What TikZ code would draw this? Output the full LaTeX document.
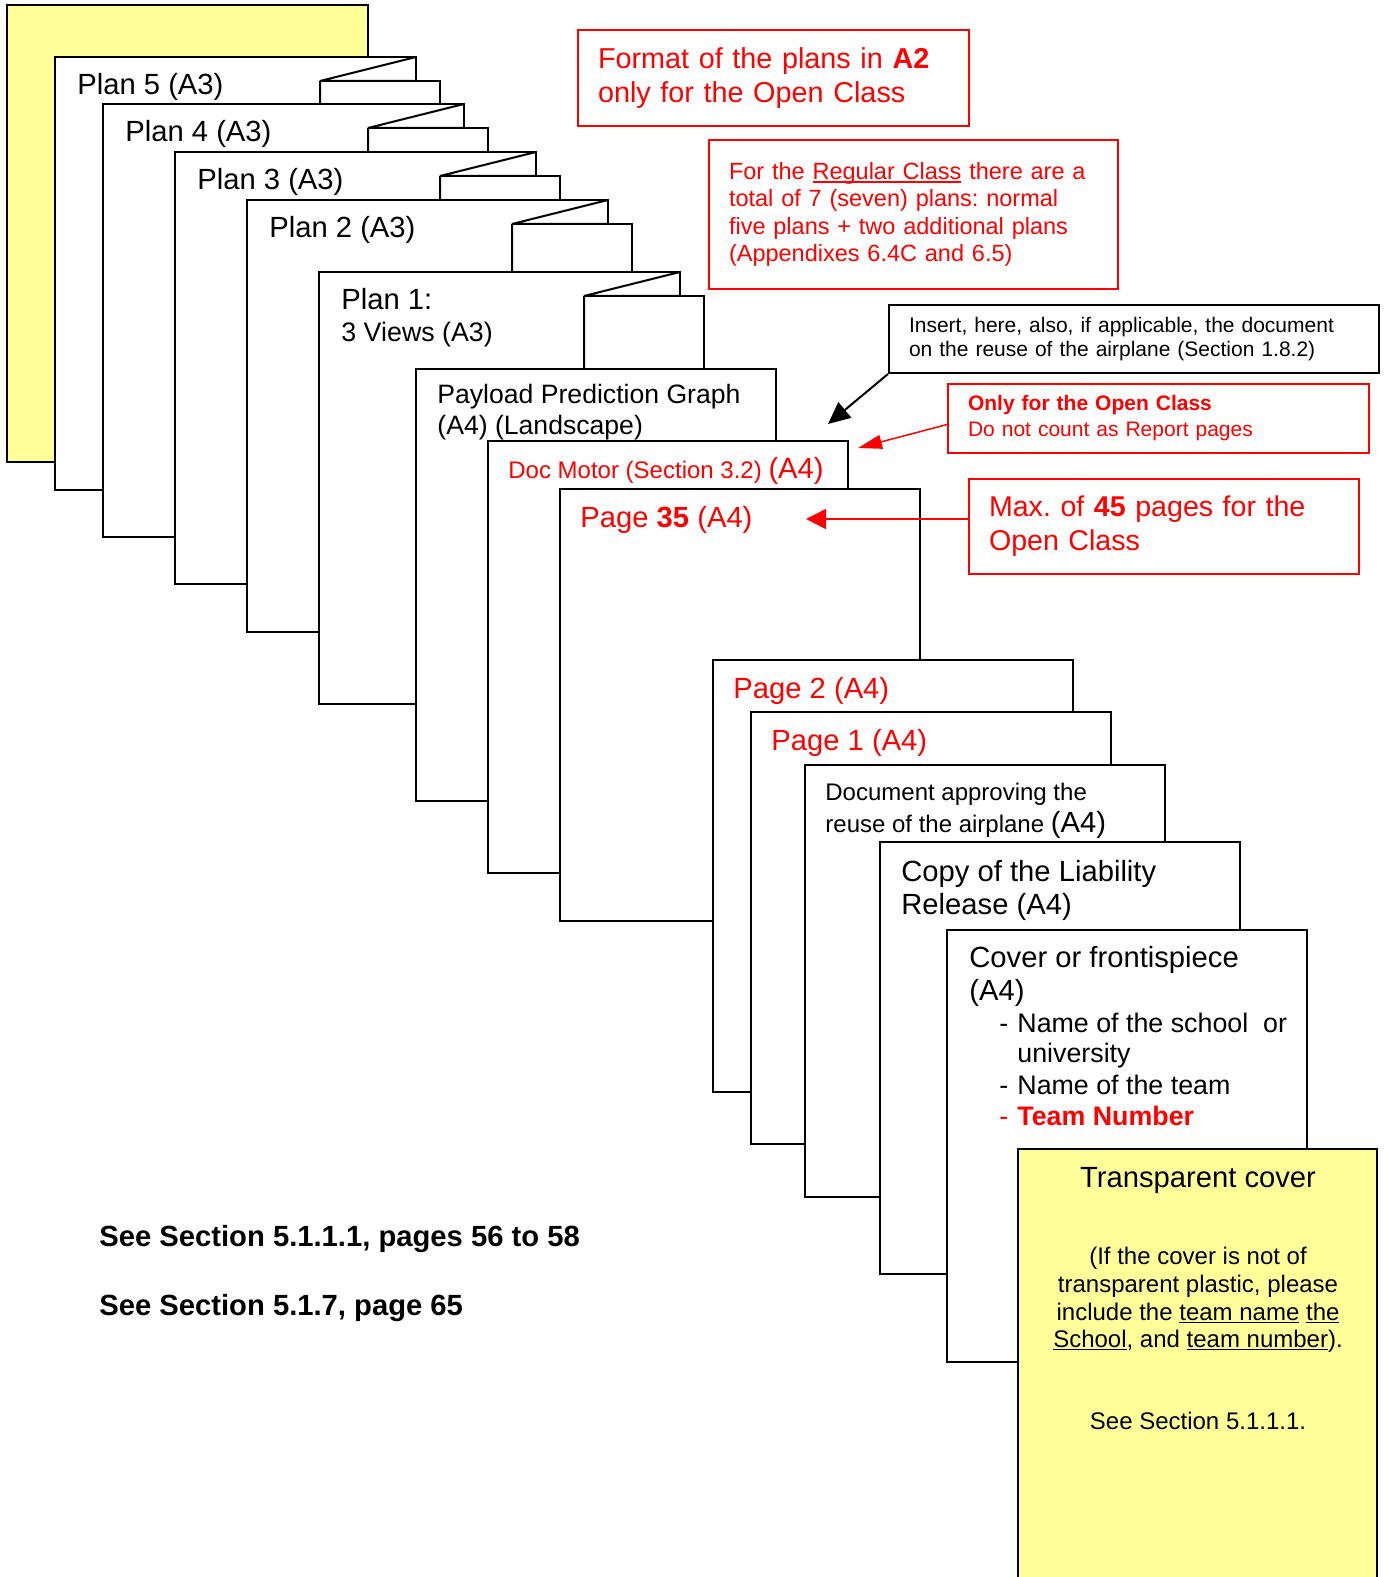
\documentclass[tikz,border=0pt]{standalone}
\usepackage{fontspec}
\setmainfont{Liberation Sans}
\usetikzlibrary{arrows.meta}
\definecolor{paleyellow}{HTML}{FFFF99}
\newcommand\bigfont{\fontsize{14.6}{17}\selectfont}
\newcommand\midfont{\fontsize{12}{13.75}\selectfont}
\newcommand\itemfont{\fontsize{13.4}{16}\selectfont}
\newcommand\uln[1]{\leavevmode\setbox0\hbox{#1}\rlap{\rule[-1.6pt]{\wd0}{0.6pt}}\box0\relax}

\begin{document}
\frenchspacing
\begin{tikzpicture}[x=0.5pt, y=-0.5pt,
		sheet/.style={draw, fill=white, line width=1pt},
		pagetext/.style={anchor=base west, inner sep=0pt},
		covertext/.style={anchor=base, inner sep=0pt, font=\midfont},
		notebox/.style={draw=red, line width=1pt, text=red, anchor=north west, align=left, inner xsep=10pt, inner ysep=0pt}]
		\useasboundingbox (0,0) rectangle (1385,1577);
		\clip (0,0) rectangle (1385,1577);

		% yellow back cover
		\draw[line width=1pt, fill=paleyellow] (7,5) rectangle (368,462);

		% the folded A3 plans
		\foreach \L/\T/\B/\n/\txt in {55/57/490/5/{Plan 5 (A3)}, 103/104/537/4/{Plan 4 (A3)}, 175/152/584/3/{Plan 3 (A3)}, 247/200/632/2/{Plan 2 (A3)}, 319/272/704/1/{Plan 1:}}{
			\draw[sheet] (\L,\T) -- ++(361,0) -- ++(0,24) -- ++(24,0) |- (\L,\B) -- cycle;
			\draw[line width=1pt, line join=bevel] (\L+361,\T) -- (\L+265,\T+24) -- ++(96,0) (\L+265,\T+24) -- (\L+265,\B);
			\node[pagetext, font=\bigfont] (plan\n) at (\L+22,\T+38) {\txt};
		}
		\node[pagetext, font=\fontsize{13.4}{15}\selectfont] (views) at (341,342) {3 Views (A3)};

		% the A4 pages
		\foreach \L/\T in {416/369, 488/441, 560/489, 713/660, 751/712, 805/765, 880/842, 947/930}
			\draw[sheet] (\L,\T) rectangle ++(360,432);

		% transparent cover
		\draw[line width=1pt, fill=paleyellow] (1018,1149) rectangle (1377,1610);

		% page texts
		\node[pagetext, font=\fontsize{13.3}{15.5}\selectfont] (payloadA) at (437,404) {Payload Prediction Graph};
		\node[pagetext, font=\fontsize{13.3}{15.5}\selectfont] (payloadB) at (437,435) {(A4) (Landscape)};
		\node[pagetext, font=\midfont, text=red] (motor) at (508,478) {Doc Motor (Section 3.2) {\bigfont (A4)}};
		\node[pagetext, font=\bigfont, text=red] (pagelast) at (580,527) {Page \textbf{35} (A4)};
		\node[pagetext, font=\bigfont, text=red] (pagetwo) at (733,698) {Page 2 (A4)};
		\node[pagetext, font=\bigfont, text=red] (pageone) at (771,750) {Page 1 (A4)};
		\node[pagetext, font=\midfont] (approveA) at (825,800) {Document approving the};
		\node[pagetext, font=\midfont] (approveB) at (825,832) {reuse of the airplane {\bigfont (A4)}};
		\node[pagetext, font=\bigfont] (copyA) at (901,881) {Copy of the Liability};
		\node[pagetext, font=\bigfont] (copyB) at (901,914) {Release (A4)};
		\node[pagetext, font=\bigfont] (coverA) at (969,967) {Cover or frontispiece};
		\node[pagetext, font=\bigfont] (coverB) at (969,1000) {(A4)};
		\node[pagetext, font=\itemfont] (dashA) at (999,1032) {-};
		\node[pagetext, font=\itemfont] (itemA) at (1017,1032) {Name of the school\ \ or};
		\node[pagetext, font=\itemfont] (itemAb) at (1017,1062) {university};
		\node[pagetext, font=\itemfont] (dashB) at (999,1094) {-};
		\node[pagetext, font=\itemfont] (itemB) at (1017,1094) {Name of the team};
		\node[pagetext, font=\itemfont, text=red] (dashC) at (999,1125) {-};
		\node[pagetext, font=\itemfont\bfseries, text=red] (itemC) at (1017,1125) {Team Number};

		\node[covertext, font=\bigfont] (transp) at (1198,1187) {Transparent cover};
		\node[covertext] (transpA) at (1198,1264) {(If the cover is not of};
		\node[covertext] (transpB) at (1198,1292) {transparent plastic, please};
		\node[covertext] (transpC) at (1198,1320) {include the \uln{team name} \uln{the}};
		\node[covertext] (transpD) at (1198,1347) {\uln{School}, and \uln{team number}).};
		\node[covertext] (transpE) at (1198,1429) {See Section 5.1.1.1.};

		\node[pagetext, font=\bigfont\bfseries] (seeA) at (99,1246) {See Section 5.1.1.1, pages 56 to 58};
		\node[pagetext, font=\bigfont\bfseries] (seeB) at (99,1315) {See Section 5.1.7, page 65};

		% notes
		\node[notebox, text width=175.5pt, minimum height=48pt, font=\fontsize{14.4}{17}\selectfont] (format) at (577,29) {Format of the plans in \textbf{A2}\\only for the Open Class};
		\node[notebox, text width=184.5pt, minimum height=74.5pt, font=\fontsize{11.75}{13.75}\selectfont] (regular) at (708,139) {For the \uln{Regular Class} there are a\\total of 7 (seven) plans: normal\\five plans + two additional plans\\(Appendixes 6.4C and 6.5)};
		\node[notebox, draw=black, text=black, text width=225pt, minimum height=34pt, font=\fontsize{10.5}{12}\selectfont] (insert) at (888,304) {Insert, here, also, if applicable, the document\\on the reuse of the airplane (Section 1.8.2)};
		\node[notebox, text width=190.5pt, minimum height=34.5pt, font=\fontsize{10.5}{13}\selectfont] (openonly) at (947,383) {\textbf{Only for the Open Class}\\Do not count as Report pages};
		\node[notebox, text width=175pt, minimum height=47.5pt, font=\fontsize{14.3}{17}\selectfont] (maxpages) at (968,478) {Max. of \textbf{45} pages for the\\Open Class};

		% arrows
		\coordinate (insertTip) at (828,424);
		\coordinate (openTip) at (858,448);
		\coordinate (maxTip) at (806,519);
		\draw[line width=1pt, -{Triangle[length=11pt,width=10pt]}] (insert.south west) -- (insertTip);
		\draw[red, line width=0.75pt, -{Triangle[length=12pt,width=7pt]}] ([yshift=-3pt]openonly.west) -- (openTip);
		\draw[red, line width=0.75pt, -{Triangle[length=10pt,width=10pt]}] (maxpages.west |- maxTip) -- (maxTip);
	\end{tikzpicture}
\end{document}
